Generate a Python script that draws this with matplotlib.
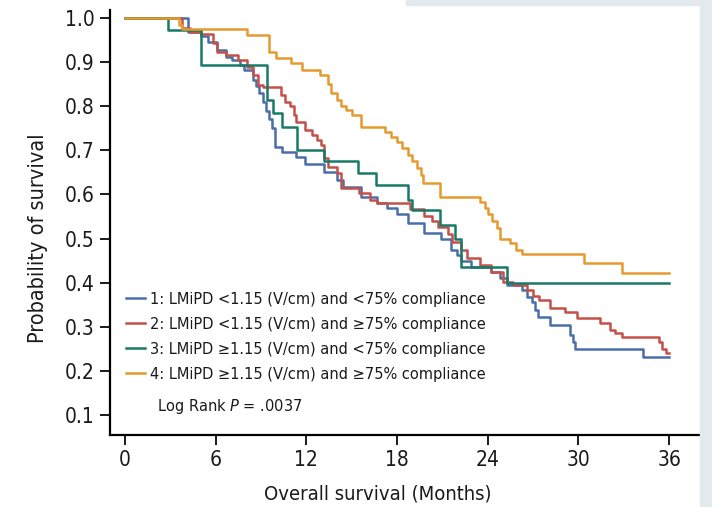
import matplotlib
matplotlib.use("Agg")
import matplotlib.pyplot as plt
from matplotlib.patches import Rectangle

plt.rcParams['font.family'] = ['DejaVu Sans']
plt.rcParams['font.stretch'] = 'condensed'
plt.rcParams['mathtext.fontset'] = 'custom'
plt.rcParams['mathtext.it'] = 'DejaVu Sans:italic'
plt.rcParams['mathtext.rm'] = 'DejaVu Sans'

# ---- data (step functions: time in months, survival after each drop) ----
t1 = [0, 4.2, 5.0, 5.5, 6.1, 6.7, 7.1, 7.6, 7.9, 8.5, 8.7, 8.9, 9.1, 9.3, 9.5, 9.7, 9.95,
      10.4, 11.3, 11.9, 13.2, 14.0, 14.4, 15.6, 16.7, 17.35, 18.0, 18.7, 19.8, 20.9, 21.6,
      22.0, 22.2, 22.9, 24.2, 24.8, 25.3, 26.3, 26.6, 26.9, 27.1, 27.3, 28.1, 29.45, 29.65,
      29.8, 34.3, 36.0]
s1 = [1.0, 0.968, 0.96, 0.946, 0.927, 0.912, 0.905, 0.893, 0.882, 0.86, 0.845, 0.83, 0.81,
      0.79, 0.77, 0.75, 0.707, 0.696, 0.685, 0.67, 0.65, 0.633, 0.617, 0.594, 0.58, 0.569,
      0.556, 0.535, 0.512, 0.50, 0.474, 0.463, 0.45, 0.435, 0.425, 0.41, 0.395, 0.383, 0.368,
      0.356, 0.338, 0.322, 0.304, 0.281, 0.265, 0.25, 0.231, 0.231]

t2 = [0, 3.8, 4.3, 5.0, 5.8, 6.1, 6.7, 7.5, 8.1, 8.5, 8.8, 9.1, 10.3, 10.6, 10.9, 11.2, 11.3,
      11.9, 12.4, 12.7, 13.0, 13.2, 13.4, 14.0, 14.3, 15.5, 16.2, 16.7, 18.85, 19.8, 20.3,
      20.7, 21.4, 21.65, 22.2, 22.6, 23.5, 24.2, 25.0, 25.7, 26.6, 27.0, 27.4, 28.1, 29.1,
      29.9, 31.4, 32.1, 32.4, 32.9, 35.3, 35.5, 35.8, 36.0]
s2 = [1.0, 0.977, 0.968, 0.965, 0.943, 0.923, 0.916, 0.905, 0.89, 0.87, 0.848, 0.843, 0.825,
      0.81, 0.80, 0.78, 0.764, 0.746, 0.735, 0.723, 0.712, 0.683, 0.662, 0.648, 0.615, 0.603,
      0.587, 0.58, 0.567, 0.55, 0.54, 0.526, 0.51, 0.492, 0.474, 0.456, 0.44, 0.424, 0.401,
      0.395, 0.383, 0.37, 0.36, 0.342, 0.333, 0.32, 0.308, 0.293, 0.286, 0.277, 0.265, 0.25,
      0.24, 0.24]

t3 = [0, 2.85, 5.0, 9.4, 9.8, 10.4, 11.4, 13.2, 15.4, 16.6, 18.7, 19.0, 20.85, 21.85, 22.2,
      25.3, 36.0]
s3 = [1.0, 0.973, 0.893, 0.814, 0.785, 0.753, 0.70, 0.676, 0.648, 0.621, 0.587, 0.565, 0.53,
      0.50, 0.435, 0.40, 0.40]

t4 = [0, 3.6, 3.8, 8.1, 9.5, 10.0, 11.0, 11.7, 12.9, 13.4, 13.6, 14.0, 14.3, 14.6, 15.0, 15.6,
      17.2, 17.6, 18.0, 18.3, 18.7, 19.0, 19.3, 19.6, 19.75, 20.85, 23.5, 23.8, 24.0, 24.3,
      24.6, 24.8, 25.5, 25.9, 26.3, 30.4, 32.9, 36.0]
s4 = [1.0, 0.985, 0.975, 0.961, 0.923, 0.909, 0.898, 0.882, 0.871, 0.85, 0.83, 0.814, 0.80,
      0.791, 0.78, 0.753, 0.742, 0.73, 0.72, 0.705, 0.69, 0.675, 0.66, 0.645, 0.626, 0.594,
      0.583, 0.57, 0.555, 0.54, 0.525, 0.50, 0.49, 0.475, 0.465, 0.444, 0.422, 0.422]

labels = ["1: LMiPD <1.15 (V/cm) and <75% compliance",
          "2: LMiPD <1.15 (V/cm) and \u226575% compliance",
          "3: LMiPD \u22651.15 (V/cm) and <75% compliance",
          "4: LMiPD \u22651.15 (V/cm) and \u226575% compliance"]
colors = ["#4a6fa8", "#c4504a", "#177a68", "#e59a2e"]
xticks = [0, 6, 12, 18, 24, 30, 36]
yticks = [0.1, 0.2, 0.3, 0.4, 0.5, 0.6, 0.7, 0.8, 0.9, 1.0]

fig = plt.figure(figsize=(7.12, 5.07), dpi=100)
# light decorative background strips
fig.patches.append(Rectangle((0.983, 0), 0.017, 1, transform=fig.transFigure,
                             color="#e3eaee", zorder=0))
fig.patches.append(Rectangle((0.57, 0.99), 0.43, 0.01, transform=fig.transFigure,
                             color="#e3eaee", zorder=0))

ax = fig.add_axes([0.1545, 0.142, 0.833, 0.838])
ax.patch.set_alpha(0)
series = [(t1, s1), (t2, s2), (t3, s3), (t4, s4)]
for (t, s), c, lab in zip(series, colors, labels):
    ax.plot(t, s, drawstyle="steps-post", color=c, lw=1.8, label=lab)

ax.set_xlim(-0.99, 38.25)
ax.set_ylim(0.0544, 1.018)
ax.set_xticks(xticks)
ax.set_yticks(yticks)
ax.set_yticklabels([f"{v:.1f}" for v in yticks])
for side in ["top", "right"]:
    ax.spines[side].set_visible(False)
for side in ["left", "bottom"]:
    ax.spines[side].set_linewidth(1.6)
ax.tick_params(axis="both", direction="out", length=7, width=1.4, labelsize=15,
               colors="#1a1a1a", pad=4)
ax.set_xlabel("Overall survival (Months)", fontsize=14.5, color="#1a1a1a")
ax.xaxis.label.set_va("top")
ax.xaxis.set_label_coords(0.452, -0.117)
ax.set_ylabel("Probability of survival", fontsize=15.5, color="#1a1a1a")
ax.yaxis.set_label_coords(-0.105, 0.4635)

leg = ax.legend(loc="lower left", bbox_to_anchor=(0.01, 0.102), frameon=False,
                fontsize=11.7, handlelength=1.2, handletextpad=0.3, labelspacing=0.62,
                borderaxespad=0.2)
for txt in leg.get_texts():
    txt.set_color("#1a1a1a")
ax.text(0.08, 0.068, "Log Rank $P$ = .0037", transform=ax.transAxes, fontsize=11.7,
        color="#1a1a1a", va="center", ha="left")

fig.savefig("out.png", dpi=100)
